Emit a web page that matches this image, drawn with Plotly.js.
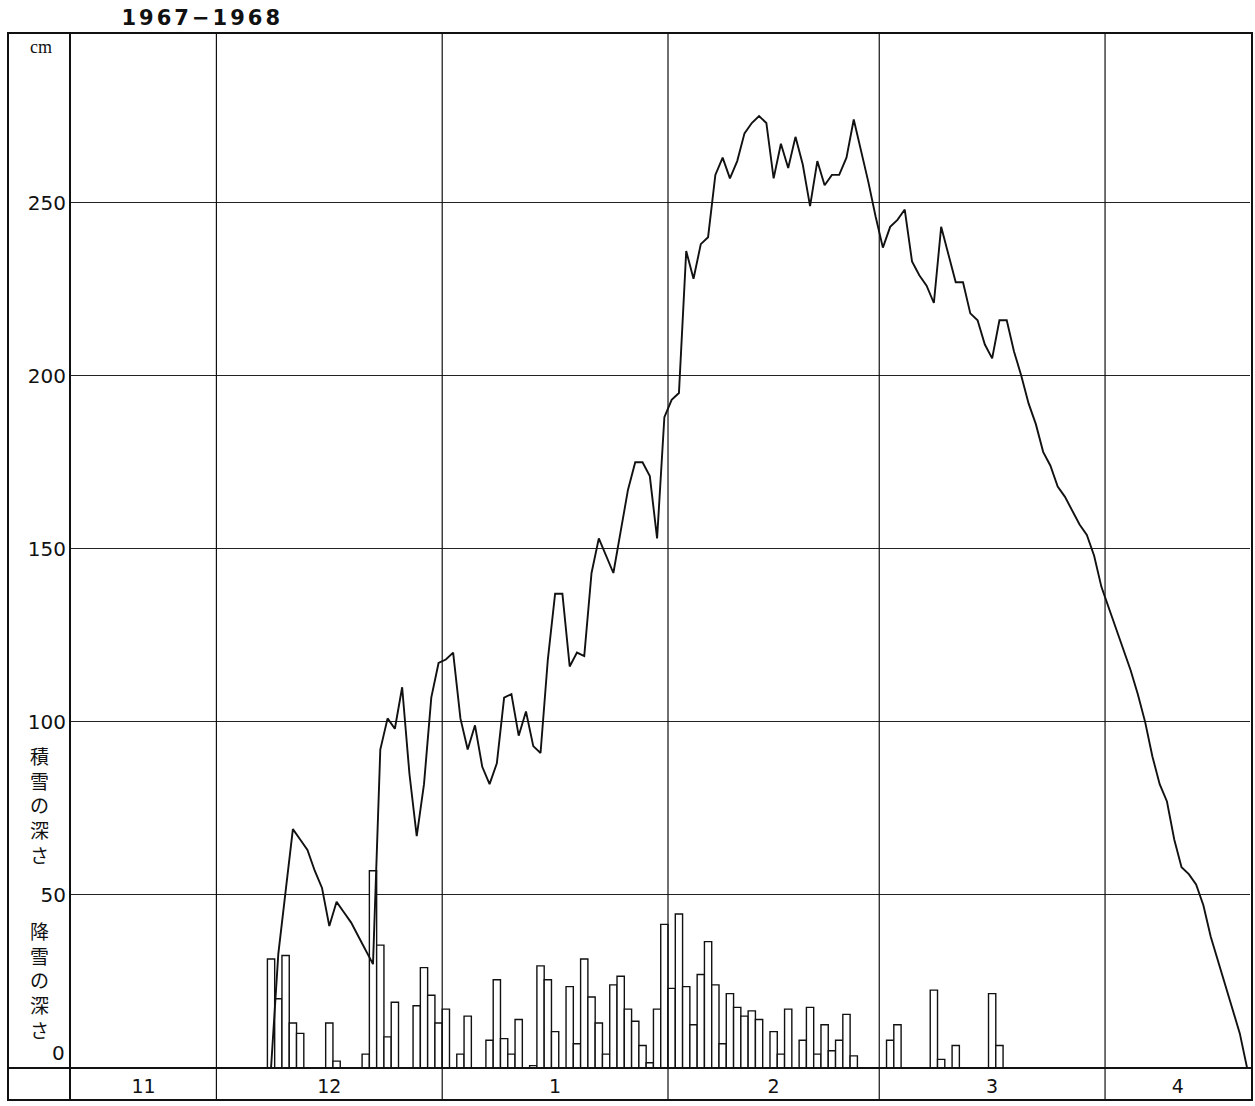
<!DOCTYPE html>
<html><head><meta charset="utf-8">
<script src="https://cdn.plot.ly/plotly-3.0.1.min.js"></script>
<style>
html,body{margin:0;padding:0;background:#fff;}
#chart{width:1255px;height:1106px;}
.annotation[data-index="0"] .annotation-text{letter-spacing:3px;}
</style></head><body><div id="chart"></div>
<script>
// Day index 0 = 1967-11-11
const monthLabels = ['11', '12', '1', '2', '3', '4'];
const monthDays = [20, 31, 31, 29, 31, 20];
const yTicks = [50, 100, 150, 200, 250];

// 積雪の深さ (snow depth, cm), daily from day index 27 (Dec 8)
const depthFirstDay = 27;
const snowDepth = [
  0, 33, 51, 69, 66, 63, 57, 52, 41, 48, 45, 42, 38, 34, 30,
  92, 101, 98, 110, 85, 67, 82, 107, 117, 118, 120, 101, 92, 99, 87,
  82, 88, 107, 108, 96, 103, 93, 91, 118, 137, 137, 116, 120, 119, 143,
  153, 148, 143, 155, 167, 175, 175, 171, 153, 188, 193, 195, 236, 228, 238,
  240, 258, 263, 257, 262, 270, 273, 275, 273, 257, 267, 260, 269, 261, 249,
  262, 255, 258, 258, 263, 274, 265, 256, 246, 237, 243, 245, 248, 233, 229,
  226, 221, 243, 235, 227, 227, 218, 216, 209, 205, 216, 216, 207, 200, 192,
  186, 178, 174, 168, 165, 161, 157, 154, 148, 139, 133, 127, 121, 115, 108,
  100, 90, 82, 77, 66, 58, 56, 53, 47, 38, 31, 24, 17, 10, 0
];

// 降雪の深さ (new snowfall, cm), daily from day index 27
const snowfallFirstDay = 27;
const snowfall = [
  31.5, 20, 32.5, 13, 10, 0, 0, 0, 13, 2, 0, 0, 0, 4, 57,
  35.5, 9, 19, 0, 0, 18, 29, 21, 13, 17, 0, 4, 15, 0, 0,
  8, 25.5, 8.5, 4, 14, 0, 0.7, 29.5, 25.5, 10.5, 0, 23.5, 7, 31.5, 20.5,
  13, 4, 24, 26.5, 17, 13.5, 6.5, 1.5, 17, 41.5, 23, 44.5, 23.5, 12.5, 27,
  36.5, 24, 7, 21.5, 17.5, 15, 16.5, 14, 0, 10.5, 4, 17, 0, 8, 17.5,
  4, 12.5, 5, 8, 15.5, 3.5, 0, 0, 0, 0, 8, 12.5, 0, 0, 0,
  0, 22.5, 2.5, 0, 6.5, 0, 0, 0, 0, 21.5, 6.5
];

const boundaries = [], centers = [];
let acc = 0;
monthDays.forEach(function (d) {
  const s = acc - 0.5, e = acc + d - 0.5;
  centers.push((s + e) / 2);
  boundaries.push(e);
  acc += d;
});

const font = 'DejaVu Sans, Liberation Sans, sans-serif';
const W = 1255, H = 1106, ML = 70, MR = 5, MT = 33, MB = 38;
const PW = W - ML - MR, PH = H - MT - MB;
const px = function (x) { return (x - ML) / PW; };
const py = function (y) { return (H - MB - y) / PH; };

const barTrace = {
  type: 'bar',
  x: snowfall.map(function (_, k) { return snowfallFirstDay + k; }),
  y: snowfall,
  width: 1,
  marker: { color: '#ffffff', line: { color: '#111', width: 1.4 } },
  hoverinfo: 'skip'
};
const lineTrace = {
  type: 'scatter', mode: 'lines',
  x: snowDepth.map(function (_, k) { return depthFirstDay + k; }),
  y: snowDepth,
  line: { color: '#111', width: 1.9 },
  hoverinfo: 'skip'
};

const shapes = [
  { type: 'rect', xref: 'paper', yref: 'paper', x0: px(8), x1: px(1252), y0: py(1100), y1: 1,
    line: { color: '#111', width: 2 }, fillcolor: 'rgba(0,0,0,0)' },
  { type: 'line', xref: 'paper', yref: 'paper', x0: px(8), x1: px(1252), y0: 0, y1: 0,
    line: { color: '#111', width: 2 } },
  { type: 'line', xref: 'paper', yref: 'paper', x0: 0, x1: 0, y0: py(1100), y1: 1,
    line: { color: '#111', width: 2 } }
];
boundaries.slice(0, boundaries.length - 1).forEach(function (b) {
  shapes.push({ type: 'line', xref: 'x', yref: 'paper', x0: b, x1: b, y0: py(1100), y1: 1,
    line: { color: '#111', width: 1.2 } });
});

const annotations = [
  { text: '1967−1968', xref: 'paper', yref: 'paper', x: px(133), y: py(18), xanchor: 'left', yanchor: 'middle',
    showarrow: false, font: { family: font, size: 21, color: '#111', weight: 'bold' } },
  { text: 'cm', xref: 'paper', yref: 'paper', x: px(41), y: py(47), xanchor: 'center', yanchor: 'middle',
    showarrow: false, font: { family: 'Liberation Serif, serif', size: 18, color: '#111' } },
  { text: '0', xref: 'paper', yref: 'y', x: px(67), y: 0, yshift: 15, xanchor: 'right', yanchor: 'middle',
    showarrow: false, font: { family: font, size: 20, color: '#111' } },
  { text: '積<br>雪<br>の<br>深<br>さ', xref: 'paper', yref: 'paper', x: px(39), y: py(805), xanchor: 'center', yanchor: 'middle',
    showarrow: false, font: { family: 'Noto Sans CJK JP', size: 19, color: '#111' } },
  { text: '降<br>雪<br>の<br>深<br>さ', xref: 'paper', yref: 'paper', x: px(39), y: py(980), xanchor: 'center', yanchor: 'middle',
    showarrow: false, font: { family: 'Noto Sans CJK JP', size: 19, color: '#111' } }
];

const layout = {
  width: W, height: H,
  margin: { l: ML, r: MR, t: MT, b: MB, pad: 0 },
  paper_bgcolor: '#fff', plot_bgcolor: '#fff',
  showlegend: false,
  bargap: 0,
  xaxis: {
    range: [-0.6, 161.4], tickmode: 'array', tickvals: centers, ticktext: monthLabels,
    showgrid: false, zeroline: false, showline: false, ticks: '',
    tickfont: { family: font, size: 19, color: '#111' }, ticklabelstandoff: 5,
    fixedrange: true
  },
  yaxis: {
    range: [0, 299], tickmode: 'array', tickvals: yTicks,
    showgrid: true, gridcolor: '#222', gridwidth: 1.1, zeroline: false, showline: false, ticks: '',
    tickfont: { family: font, size: 20, color: '#111' }, ticklabelstandoff: 3,
    fixedrange: true
  },
  shapes: shapes,
  annotations: annotations
};

Plotly.newPlot('chart', [barTrace, lineTrace], layout, { displayModeBar: false, staticPlot: true });
</script></body></html>
